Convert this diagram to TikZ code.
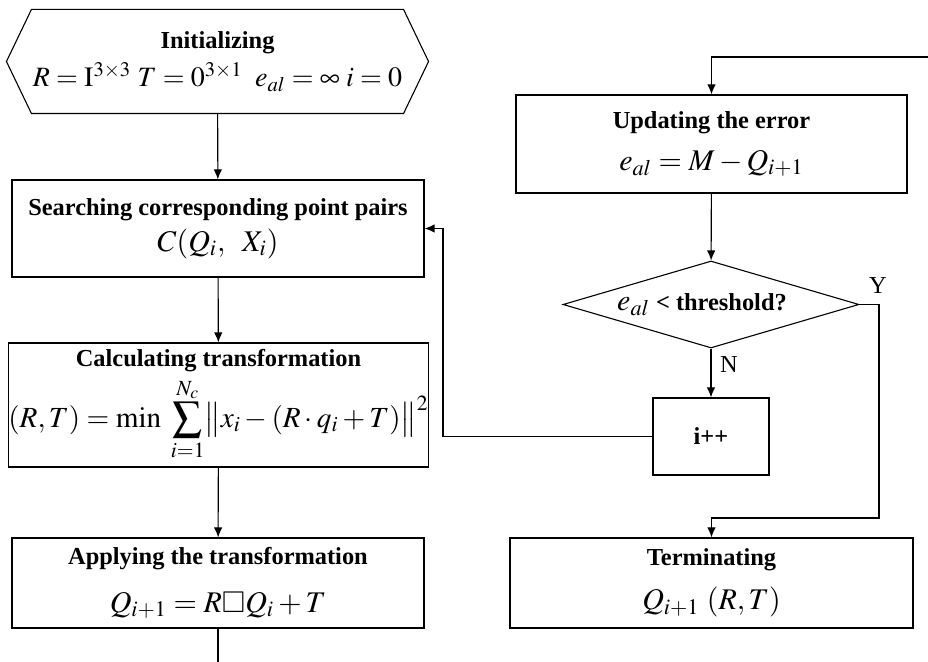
\documentclass[tikz,border=0pt]{standalone}
\usepackage{amsmath,amssymb}
\usepackage{mathptmx}
\usepackage[no-math]{fontspec}
\setmainfont{Liberation Serif}
\usetikzlibrary{calc,shapes.geometric,arrows.meta}
\newcommand{\fml}[1]{{\fontsize{15}{18}\selectfont$#1$}}
\begin{document}
\begin{tikzpicture}[
x=0.5pt,y=-0.5pt,
line width=0.55pt,
>={Latex[length=5pt,width=4.2pt]},
every node/.style={
align=center,
font=\fontsize{12.2}{15}\selectfont
},
box/.style={
draw,
minimum width=206pt,
minimum height=48.5pt,
inner sep=0pt
}
]
\useasboundingbox (0,0) rectangle (928,662);

% left column
\node[minimum width=185.5pt, minimum height=51.5pt, inner sep=0pt] (Init) at (217.5,61.5)
{\textbf{Initializing}\\[4pt]
{\fontsize{14}{18}\selectfont$R=\mathrm{I}^{3\times3}\;T=0^{3\times1}\;\;e_{al}=\infty\;i=0$}};
\draw (Init.north west) -- (Init.north east) -- ($(Init.east)+(25,0)$)
-- (Init.south east) -- (Init.south west) -- ($(Init.west)+(-25,0)$) -- cycle;

\node[box] (S) at (218,228.5)
{\textbf{Searching corresponding point pairs}\\[3pt]
\fml{C(Q_i,\;\;X_i)}};

\node[box, minimum height=62pt] (C) at (218.5,405)
{\textbf{Calculating transformation}\\[2pt]
{\fontsize{14.6}{18}\selectfont$(R,T)=\min\;\displaystyle\sum_{i=1}^{N_c}\bigl\lVert x_i-(R\cdot q_i+T)\bigr\rVert^2$}};

\node[box, minimum height=45pt] (A) at (218,583)
{\textbf{Applying the transformation}\\[9pt]
\fml{Q_{i+1}=R\square Q_i+T}};

% right column
\node[box, minimum width=195.5pt, minimum height=49pt] (U) at (711.5,144)
{\textbf{Updating the error}\\[6pt]
\fml{e_{al}=M-Q_{i+1}}};

\node[draw, diamond, aspect=3.4, minimum width=148pt, minimum height=43.5pt, inner sep=0pt] (E) at (711,304.5)
{\fml{e_{al}}\ \textbf{< threshold?}\kern9pt};

\node[box, minimum width=58pt, minimum height=38.5pt] (I) at (711,436.5)
{\textbf{i++}};

\node[box, minimum width=201.5pt, minimum height=45pt] (F) at (711.5,583)
{\textbf{Terminating}\\[7pt]
\fml{Q_{i+1}\ (R,T)}};

\node (Y) at (878,286) {Y};
\node (N) at (729,365) {N};

\coordinate (in) at (928,57);
\coordinate (out) at (218,662);
\coordinate (back) at (443,228.5);
\coordinate (yes) at (879,518);

\draw[->] (Init) -- (S);
\draw[->] (S) -- (C);
\draw[->] (C) -- (A);
\draw (A) -- (out);
\draw[->] (in) -| (U.north);
\draw[->] (U) -- (E);
\draw[->] (E) -- (I);
\draw[->] (I.west) -| (back) -- (S.east);
\draw[->] (E.east) -| (yes) -| (F.north);

\end{tikzpicture}
\end{document}
